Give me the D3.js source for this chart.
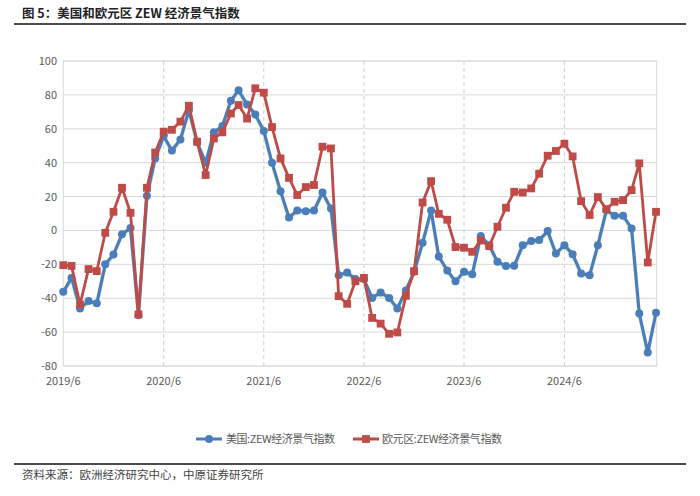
<!DOCTYPE html>
<html>
<head>
<meta charset="utf-8">
<script src="https://cdn.jsdelivr.net/npm/d3@7"></script>
<style>
  body { margin: 0; background: #fff; }
  text { font-family: "Noto Sans CJK SC", "Noto Sans", sans-serif; }
</style>
</head>
<body>
<script>
// months 2019/6 .. 2025/5
var startMonth = new Date(2019, 5, 1);
var endMonth = new Date(2025, 5, 1);
var months = d3.timeMonth.range(startMonth, endMonth);

var usZew = [-36.2, -28, -46, -41.7, -43, -20, -14.2, -2.2, 1.4, -50,
  20.5, 42.5, 55.7, 47.2, 53.7, 71, 52, 40, 57.9, 61.6,
  76.6, 82.7, 74.4, 68.5, 58.7, 40, 23.2, 7.7, 11.8, 11.4,
  11.8, 22.4, 13, -26.4, -24.8, -28.7, -28.7, -39.8, -36.6, -39.8,
  -46, -35.4, -24.4, -7.3, 11.8, -15.4, -23.6, -30, -24.4, -25.8,
  -3.3, -8.7, -18.5, -21, -20.9, -8.7, -6.3, -5.7, -0.4, -13.6,
  -8.7, -14, -25.4, -26.4, -8.7, 12, 8.7, 8.7, 1.2, -49,
  -72, -48.6];

var euZew = [-20.5, -20.9, -43.7, -22.8, -24, -1.4, 11, 25.2, 10.4, -49.5,
  25.2, 46, 58.3, 59.4, 64.2, 73.6, 52.4, 32.7, 54.3, 57.9,
  69, 74, 66, 83.9, 81.3, 61, 42.5, 31, 20.9, 25.6,
  26.8, 49.4, 48.4, -38.8, -43.3, -30, -28, -51.6, -55, -61,
  -60.2, -38.6, -24, 16.5, 29.1, 9.8, 6.3, -9.8, -10.2, -12.6,
  -5.9, -9.3, 2.2, 13.4, 22.8, 22.4, 24.8, 33.5, 44.1, 46.9,
  51.2, 43.7, 17.3, 9.1, 19.7, 12.6, 16.9, 17.9, 23.8, 39.6,
  -18.9, 11];

var yTicks = [-80, -60, -40, -20, 0, 20, 40, 60, 80, 100];
var xTickLabels = ["2019/6", "2020/6", "2021/6", "2022/6", "2023/6", "2024/6"];
var seriesNames = ["美国:ZEW经济景气指数", "欧元区:ZEW经济景气指数"];

var blue = "#4a7ebb", red = "#be4b48";

var svg = d3.select("body").append("svg")
  .attr("width", 700).attr("height", 496);

// title & rules
svg.append("text").attr("x", 22).attr("y", 18)
  .style("font-size", "12.5px").style("font-weight", "bold").style("fill", "#222")
  .text("图 5：美国和欧元区 ZEW 经济景气指数");
svg.append("line").attr("x1", 14).attr("x2", 686).attr("y1", 24).attr("y2", 24)
  .style("stroke", "#111").style("stroke-width", 1.6);
svg.append("line").attr("x1", 14).attr("x2", 686).attr("y1", 464).attr("y2", 464)
  .style("stroke", "#111").style("stroke-width", 1.6);
svg.append("text").attr("x", 22).attr("y", 479)
  .style("font-size", "11.5px").style("fill", "#444")
  .text("资料来源：欧洲经济研究中心，中原证券研究所");

// scales
var x = d3.scaleTime().domain([months[0], months[months.length - 1]]).range([63.3, 656]);
var y = d3.scaleLinear().domain([-80, 100]).range([366, 61]);

// grid
svg.append("g").selectAll("line").data(yTicks).enter().append("line")
  .attr("x1", 63).attr("x2", 657)
  .attr("y1", function(d){return y(d);}).attr("y2", function(d){return y(d);})
  .style("stroke", "#d9d9d9").style("stroke-width", 1);

var yearTicks = xTickLabels.map(function(s){
  var p = s.split("/"); return new Date(+p[0], +p[1] - 1, 1);
});
svg.append("g").selectAll("line").data(yearTicks.slice(1)).enter().append("line")
  .attr("x1", function(d){return x(d);}).attr("x2", function(d){return x(d);})
  .attr("y1", 61).attr("y2", 366)
  .style("stroke", "#d0d0d0").style("stroke-dasharray", "4,3");

// frame
svg.append("rect").attr("x", 63.3).attr("y", 61).attr("width", 656.7 - 63.3).attr("height", 305)
  .style("fill", "none").style("stroke", "#d9d9d9");

// axes labels
svg.append("g").selectAll("text").data(yTicks).enter().append("text")
  .attr("x", 57).attr("y", function(d){return y(d) + 4;})
  .attr("text-anchor", "end")
  .style("font-size", "11px").style("fill", "#595959")
  .text(function(d){return d;});
svg.append("g").selectAll("text").data(xTickLabels).enter().append("text")
  .attr("x", function(d, i){return x(yearTicks[i]);}).attr("y", 385)
  .attr("text-anchor", "middle")
  .style("font-size", "11px").style("fill", "#595959")
  .text(function(d){return d;});

var line = d3.line()
  .x(function(d, i){return x(months[i]);})
  .y(function(d){return y(d);});

// US series with soft shadow
svg.append("path").datum(usZew).attr("d", line)
  .attr("transform", "translate(0,1.8)")
  .style("fill", "none").style("stroke", "#e4efc8").style("stroke-width", 3.5)
  .style("stroke-linejoin", "round");
svg.append("path").datum(usZew).attr("d", line)
  .style("fill", "none").style("stroke", blue).style("stroke-width", 3.2)
  .style("stroke-linejoin", "round");
svg.append("g").selectAll("circle").data(usZew).enter().append("circle")
  .attr("cx", function(d, i){return x(months[i]);})
  .attr("cy", function(d){return y(d);})
  .attr("r", 4).style("fill", blue);

// EU series
svg.append("path").datum(euZew).attr("d", line)
  .style("fill", "none").style("stroke", red).style("stroke-width", 2.8)
  .style("stroke-linejoin", "round");
svg.append("g").selectAll("rect").data(euZew).enter().append("rect")
  .attr("x", function(d, i){return x(months[i]) - 3.9;})
  .attr("y", function(d){return y(d) - 3.9;})
  .attr("width", 7.8).attr("height", 7.8).style("fill", red);

// legend
var lg = svg.append("g");
lg.append("line").attr("x1", 196).attr("x2", 222).attr("y1", 439).attr("y2", 439)
  .style("stroke", blue).style("stroke-width", 3);
lg.append("circle").attr("cx", 209).attr("cy", 439).attr("r", 4).style("fill", blue);
lg.append("text").attr("x", 226).attr("y", 443).attr("textLength", 109)
  .style("font-size", "11px").style("fill", "#595959").text(seriesNames[0]);
lg.append("line").attr("x1", 353).attr("x2", 379).attr("y1", 439).attr("y2", 439)
  .style("stroke", red).style("stroke-width", 3);
lg.append("rect").attr("x", 362.1).attr("y", 435.1).attr("width", 7.8).attr("height", 7.8).style("fill", red);
lg.append("text").attr("x", 382).attr("y", 443).attr("textLength", 120)
  .style("font-size", "11px").style("fill", "#595959").text(seriesNames[1]);
</script>
</body>
</html>
